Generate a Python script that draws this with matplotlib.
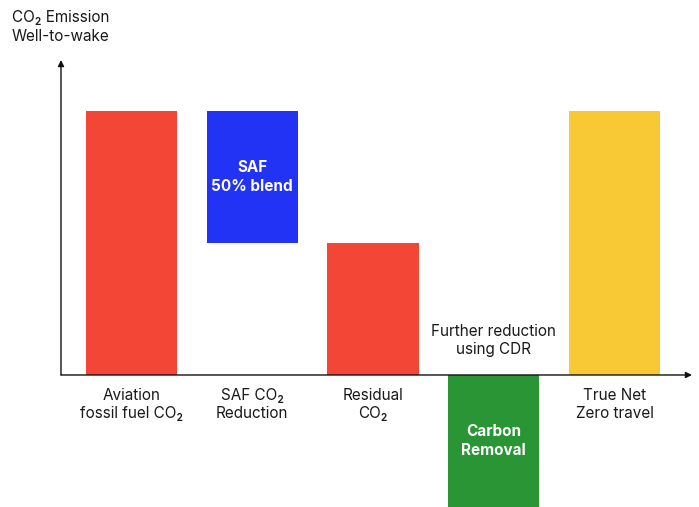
import matplotlib.pyplot as plt

plt.rcParams['font.family'] = ['Inter', 'DejaVu Sans']

categories = ['Aviation\nfossil fuel CO₂', 'SAF CO₂\nReduction', 'Residual\nCO₂', '', 'True Net\nZero travel']
bottoms = [0, 50, 0, -50, 0]
heights = [100, 50, 50, 50, 100]
colors = ['#F44636', '#2233F5', '#F44636', '#2A9535', '#F9C935']
inner_labels = ['', 'SAF\n50% blend', '', 'Carbon\nRemoval', '']
note = 'Further reduction\nusing CDR'

fig = plt.figure(figsize=(6.99, 5.07), dpi=100)
ax = fig.add_axes([61 / 699, 0, 631 / 699, 447 / 507])

x = list(range(len(categories)))
bars = ax.bar(x, heights, bottom=bottoms, width=0.755, color=colors, zorder=2)

ax.set_xlim(-0.584, 4.642)
ax.set_ylim(-50, 119.3)
ax.axis('off')

# axes with arrow heads
ax.annotate('', xy=(4.642, 0), xytext=(-0.584, 0),
            arrowprops=dict(arrowstyle='-|>', color='#111111', lw=1.0,
                            mutation_scale=9, shrinkA=0, shrinkB=0), zorder=3)
ax.annotate('', xy=(-0.584, 119.3), xytext=(-0.584, 0),
            arrowprops=dict(arrowstyle='-|>', color='#111111', lw=1.0,
                            mutation_scale=9, shrinkA=0, shrinkB=0), zorder=3)

for xi, lab in zip(x, categories):
    if lab:
        ax.text(xi, -5.0, lab, ha='center', va='top', fontsize=11,
                color='#1a1a1a', linespacing=1.25)

for b, lab in zip(bars, inner_labels):
    if lab:
        ax.text(b.get_x() + b.get_width() / 2, b.get_y() + b.get_height() / 2, lab,
                ha='center', va='center', fontsize=11, fontweight='bold',
                color='white', linespacing=1.3, zorder=4)

ax.text(3, 12.9, note, ha='center', va='center', fontsize=11,
        color='#1a1a1a', linespacing=1.25)

fig.text(12 / 699, 1 - 10 / 507, 'CO₂ Emission\nWell-to-wake', ha='left', va='top',
         fontsize=11, color='#1a1a1a', linespacing=1.3)

fig.savefig('out.png', dpi=100)
